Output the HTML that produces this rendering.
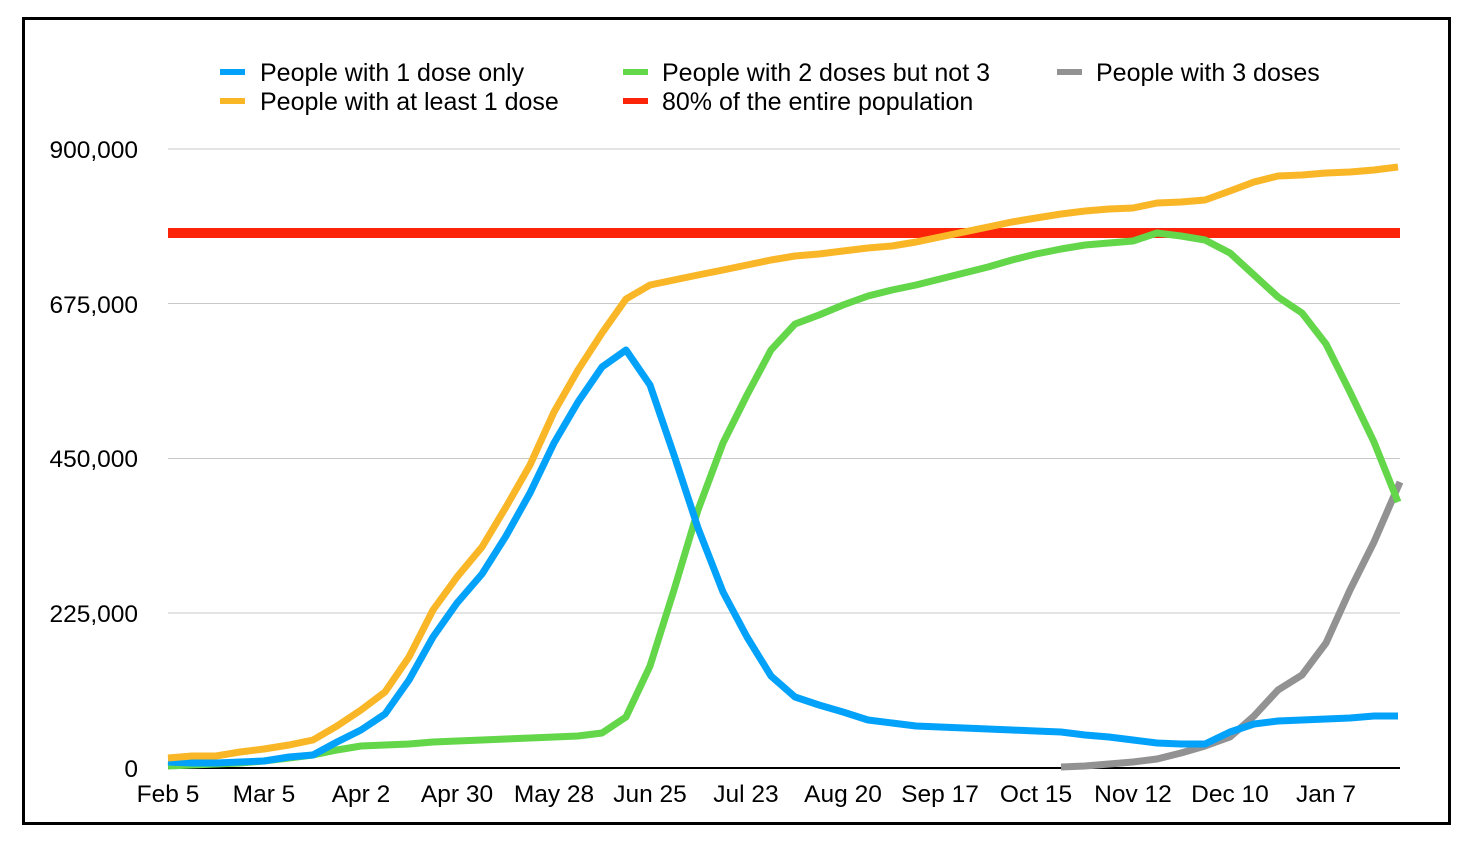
<!DOCTYPE html>
<html><head><meta charset="utf-8"><style>
html,body{margin:0;padding:0;background:#fff;}
svg{display:block;font-family:"Liberation Sans",Arial,sans-serif;}
</style></head><body>
<svg width="1480" height="852" viewBox="0 0 1480 852" xmlns="http://www.w3.org/2000/svg">
<rect x="0" y="0" width="1480" height="852" fill="#fff"/>
<rect x="23.5" y="18.5" width="1426" height="805" fill="none" stroke="#000" stroke-width="3"/>
<g stroke="#c8c8c8" stroke-width="1">
<line x1="168" y1="149" x2="1400" y2="149"/>
<line x1="168" y1="303.5" x2="1400" y2="303.5"/>
<line x1="168" y1="458.5" x2="1400" y2="458.5"/>
<line x1="168" y1="613" x2="1400" y2="613"/>
</g>
<line x1="168" y1="768" x2="1400" y2="768" stroke="#000" stroke-width="2"/>
<g font-size="24.5" fill="#000" text-anchor="end">
<text x="138" y="158">900,000</text>
<text x="138" y="313">675,000</text>
<text x="138" y="467">450,000</text>
<text x="138" y="622">225,000</text>
<text x="138" y="777">0</text>
</g>
<g font-size="24.5" fill="#000" text-anchor="middle">
<text x="168" y="802">Feb 5</text><text x="264" y="802">Mar 5</text><text x="361" y="802">Apr 2</text>
<text x="457" y="802">Apr 30</text><text x="554" y="802">May 28</text><text x="650" y="802">Jun 25</text>
<text x="746" y="802">Jul 23</text><text x="843" y="802">Aug 20</text><text x="940" y="802">Sep 17</text>
<text x="1036" y="802">Oct 15</text><text x="1133" y="802">Nov 12</text><text x="1230" y="802">Dec 10</text>
<text x="1326" y="802">Jan 7</text>
</g>
<g stroke-width="6">
<line x1="220" y1="72" x2="245" y2="72" stroke="#03a2fa"/>
<line x1="220" y1="101" x2="245" y2="101" stroke="#f9b728"/>
<line x1="623" y1="72" x2="648" y2="72" stroke="#63d64a"/>
<line x1="623" y1="101" x2="648" y2="101" stroke="#fb2409"/>
<line x1="1057" y1="72" x2="1082" y2="72" stroke="#929292"/>
</g>
<g font-size="25" fill="#000">
<text x="260" y="81">People with 1 dose only</text>
<text x="260" y="110">People with at least 1 dose</text>
<text x="662" y="81">People with 2 doses but not 3</text>
<text x="662" y="110">80% of the entire population</text>
<text x="1096" y="81">People with 3 doses</text>
</g>
<line x1="168" y1="233" x2="1400" y2="233" stroke="#fb2409" stroke-width="10"/>
<g fill="none" stroke-width="7" stroke-linejoin="round">
<polyline stroke="#929292" points="1061,767 1085,766 1109,764 1133,762 1157,759 1181,753 1205,746 1230,737 1254,716 1278,690 1302,675 1326,643 1350,590 1374,542 1400,482"/>
<polyline stroke="#63d64a" points="168,766 192,765 216,764 240,763 264,761 289,758 313,755 337,750 361,746 385,745 409,744 433,742 457,741 482,740 506,739 530,738 554,737 578,736 602,733 626,717 650,666 674,590 698,510 723,443 747,395 771,350 795,324 819,315 843,305 868,296 892,290 916,285 940,279 964,273 988,267 1012,260 1036,254 1061,249 1085,245 1109,243 1133,241 1157,233 1181,236 1205,240 1230,253 1254,275 1278,297 1302,313 1326,344 1350,392 1374,442 1398,502"/>
<polyline stroke="#03a2fa" points="168,762 192,763 216,763 240,762 264,761 289,757 313,755 337,742 361,730 385,714 409,680 433,637 457,603 482,574 506,536 530,493 554,443 578,402 602,367 626,350 650,385 674,455 698,528 723,592 747,637 771,676 795,697 819,705 843,712 868,720 892,723 916,726 940,727 964,728 988,729 1012,730 1036,731 1061,732 1085,735 1109,737 1133,740 1157,743 1181,744 1205,744 1230,732 1254,724 1278,721 1302,720 1326,719 1350,718 1374,716 1398,716"/>
<polyline stroke="#f9b728" points="168,758 192,756 216,756 240,752 264,749 289,745 313,740 337,726 361,710 385,692 409,657 433,610 457,577 482,547 506,507 530,465 554,412 578,370 602,333 626,299 650,285 674,280 698,275 723,270 747,265 771,260 795,256 819,254 843,251 868,248 892,246 916,242 940,237 964,232 988,227 1012,222 1036,218 1061,214 1085,211 1109,209 1133,208 1157,203 1181,202 1205,200 1230,191 1254,182 1278,176 1302,175 1326,173 1350,172 1374,170 1398,167"/>
</g>
</svg>
</body></html>
